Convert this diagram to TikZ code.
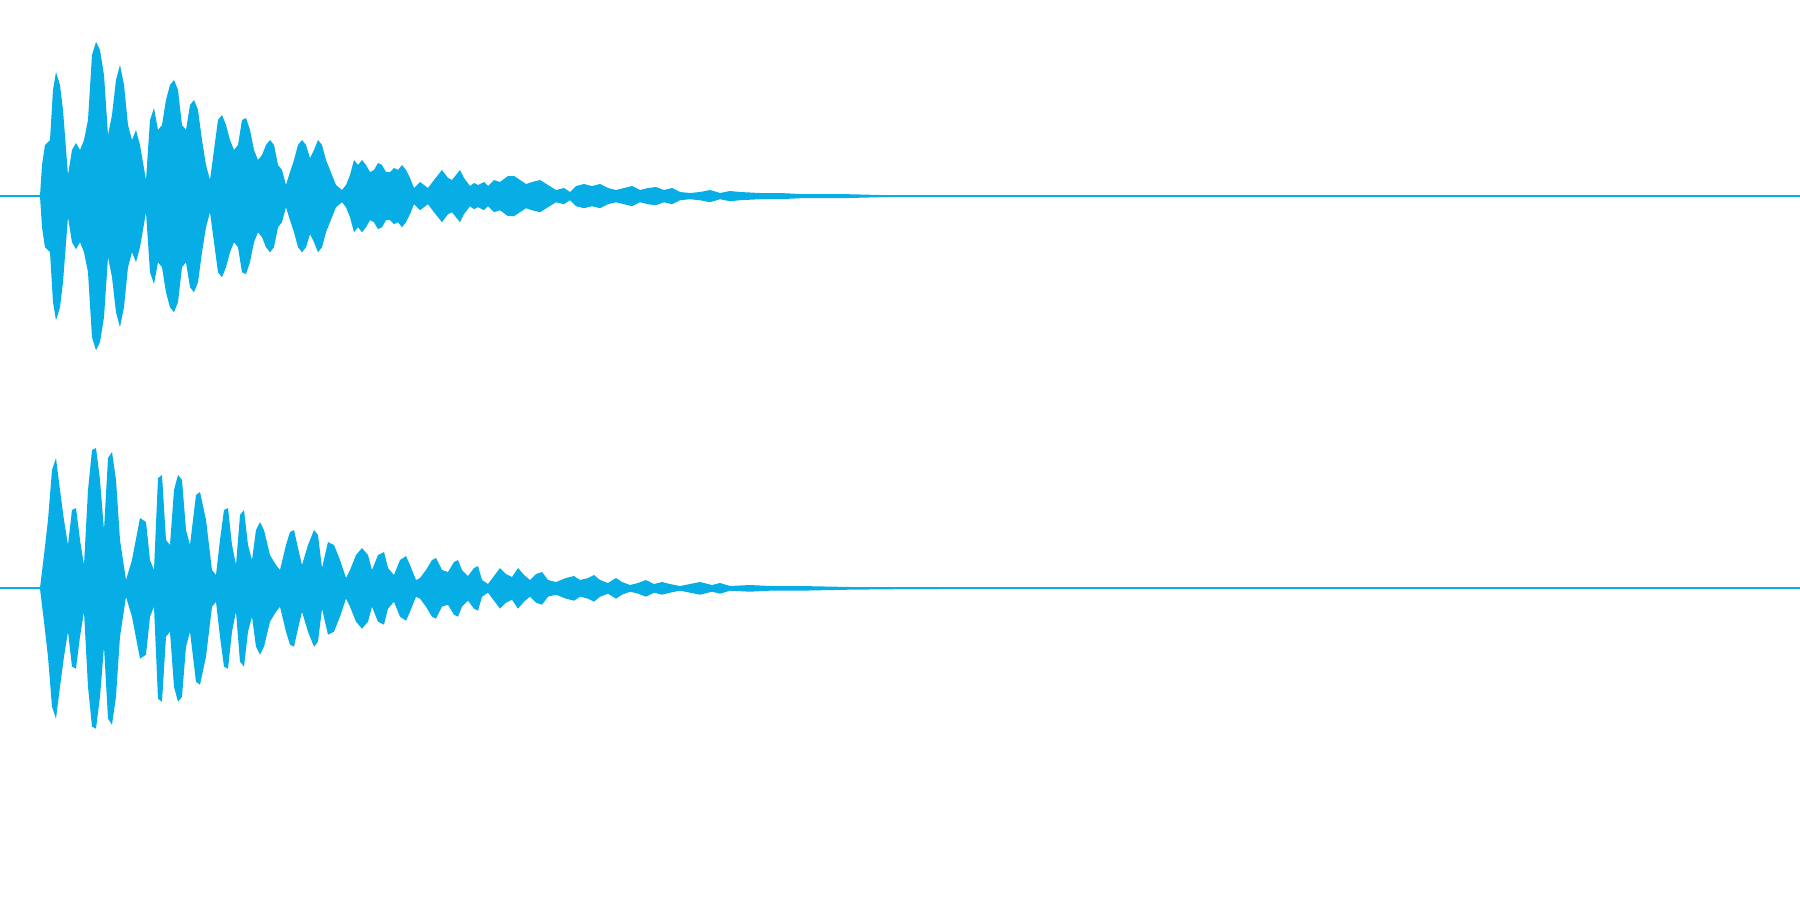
\documentclass[tikz,border=0pt]{standalone}
\usepackage{tikz}
\definecolor{wave}{RGB}{6,174,229}
\newcommand{\leftch}{(40,196) (42,165) (45,145) (50,140) (53,90) (56,72) (60,85) (63,110) (68,175) (72,150) (76,143) (80,150) (84,140) (88,120) (92,55) (96,42) (100,50) (104,75) (108,135) (112,115) (116,80) (120,65) (124,85) (128,125) (132,140) (136,130) (140,145) (146,180) (150,120) (154,108) (158,130) (162,125) (166,100) (170,85) (174,80) (178,90) (182,125) (186,130) (190,105) (194,100) (198,110) (202,140) (206,165) (210,180) (214,150) (218,120) (222,115) (226,125) (230,140) (234,150) (238,145) (242,120) (246,118) (250,130) (254,150) (258,160) (262,155) (266,145) (270,140) (274,145) (278,165) (282,170) (286,185) (290,172) (294,160) (298,145) (302,140) (306,145) (310,158) (314,150) (318,140) (322,145) (326,160) (330,170) (336,185) (342,190) (346,185) (350,175) (354,160) (358,165) (362,160) (366,165) (370,172) (374,170) (378,163) (382,165) (386,172) (390,172) (394,168) (398,170) (402,165) (406,170) (410,178) (414,188) (420,182) (424,185) (428,188) (434,180) (438,175) (442,170) (448,178) (452,180) (456,175) (460,170) (464,178) (470,186) (474,183) (478,185) (484,182) (488,186) (494,180) (500,182) (508,176) (514,176) (520,180) (526,184) (532,182) (540,180) (548,185) (556,190) (564,188) (570,192) (576,186) (584,184) (592,186) (600,184) (608,188) (616,190) (624,188) (632,186) (640,190) (648,188) (656,187) (664,190) (672,188) (680,192) (690,193) (700,192) (710,190) (720,193) (730,191) (740,192) (760,193) (780,193) (800,194) (840,194) (880,195) (900,195.5) (1000,196)}
\newcommand{\rightch}{(40,588) (44,555) (48,520) (52,470) (56,458) (60,490) (64,520) (68,545) (72,510) (76,508) (80,540) (84,565) (88,490) (92,450) (96,448) (100,480) (104,530) (108,458) (112,452) (116,480) (120,540) (126,580) (132,560) (140,518) (146,522) (150,560) (154,570) (158,478) (162,475) (166,540) (170,545) (174,490) (178,475) (182,480) (186,530) (190,545) (196,495) (200,492) (206,520) (212,570) (216,575) (220,540) (224,510) (228,508) (232,545) (236,565) (240,515) (244,510) (248,545) (252,560) (256,530) (260,522) (264,530) (270,555) (276,565) (280,570) (286,545) (290,532) (294,530) (298,548) (302,565) (308,545) (314,530) (318,535) (322,568) (328,542) (334,545) (340,560) (346,578) (350,570) (356,555) (362,548) (368,555) (372,570) (378,555) (384,552) (388,568) (394,575) (400,560) (406,556) (410,565) (416,580) (420,578) (426,570) (432,560) (436,558) (442,570) (448,572) (454,562) (458,560) (462,570) (468,576) (474,568) (478,566) (482,580) (488,584) (494,576) (500,568) (506,574) (512,577) (518,568) (524,575) (530,580) (536,574) (542,572) (548,580) (556,582) (566,578) (574,576) (580,580) (588,578) (594,575) (600,580) (608,583) (616,578) (622,582) (630,585) (638,583) (646,580) (654,584) (662,582) (670,584) (680,586) (690,584) (700,582) (712,585) (720,583) (730,586) (750,585) (770,586) (800,586) (850,587) (900,587.5) (1000,588)}

\begin{document}
\begin{tikzpicture}[x=0.01cm,y=-0.01cm]
    \useasboundingbox (0,0) rectangle (1800,900);
    % channel axes
    \draw[wave,line width=0.6pt] (0,196) -- (1800,196);
    \draw[wave,line width=0.6pt] (0,588) -- (1800,588);
    % left channel
    \fill[wave] plot coordinates {\leftch} -- cycle;
    \fill[wave,cm={1,0,0,-1,(0,-3.92cm)}] plot coordinates {\leftch} -- cycle;
    % right channel
    \fill[wave] plot coordinates {\rightch} -- cycle;
    \fill[wave,cm={1,0,0,-1,(0,-11.76cm)}] plot coordinates {\rightch} -- cycle;
\end{tikzpicture}
\end{document}
